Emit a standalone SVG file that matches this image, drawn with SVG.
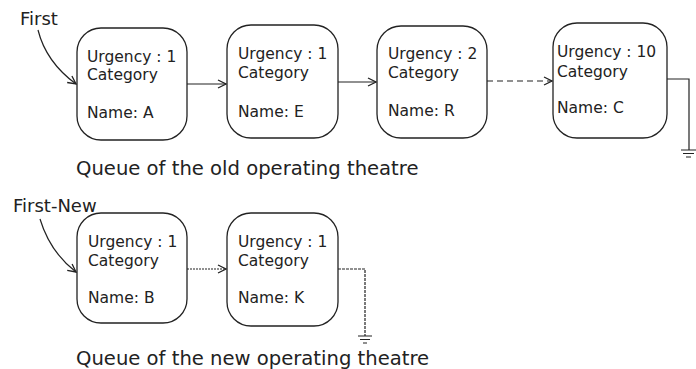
<svg xmlns="http://www.w3.org/2000/svg" width="696" height="369" viewBox="0 0 696 369">
<style>
.node{fill:#fff;stroke:#222;stroke-width:1.3}
.t{font-family:"DejaVu Sans",Verdana,sans-serif;font-size:15.5px;fill:#222}
.lbl{font-family:"DejaVu Sans",Verdana,sans-serif;font-size:18px;fill:#222}
.cap{font-family:"DejaVu Sans",Verdana,sans-serif;font-size:19.6px;fill:#222}
.ln{fill:none;stroke:#222;stroke-width:1.2}
</style>
<defs>
<marker id="ah" markerWidth="10" markerHeight="10" refX="9" refY="5" orient="auto" markerUnits="userSpaceOnUse">
<path d="M1,1 L9,5 L1,9" fill="none" stroke="#222" stroke-width="1.3"/>
</marker>
</defs>
<rect width="696" height="369" fill="#fff"/>
<text class="lbl" x="20" y="25">First</text>
<text class="lbl" x="13" y="212">First-New</text>
<g id="nodeA"><rect class="node" x="77" y="28" width="110" height="112" rx="24"/>
<text class="t" x="87" y="62">Urgency : 1</text><text class="t" x="87" y="80">Category</text><text class="t" x="87" y="118">Name: A</text></g>
<g id="nodeE"><rect class="node" x="227" y="25" width="111" height="113" rx="24"/>
<text class="t" x="238" y="59">Urgency : 1</text><text class="t" x="238" y="78">Category</text><text class="t" x="238" y="117">Name: E</text></g>
<g id="nodeR"><rect class="node" x="377" y="26" width="110" height="112" rx="24"/>
<text class="t" x="388" y="59">Urgency : 2</text><text class="t" x="388" y="78">Category</text><text class="t" x="388" y="116">Name: R</text></g>
<g id="nodeC"><rect class="node" x="553" y="23" width="114" height="115" rx="24"/>
<text class="t" x="557" y="57">Urgency : 10</text><text class="t" x="557" y="77">Category</text><text class="t" x="557" y="113">Name: C</text></g>
<g id="nodeB"><rect class="node" x="77" y="213" width="110" height="110" rx="24"/>
<text class="t" x="88" y="247">Urgency : 1</text><text class="t" x="88" y="266">Category</text><text class="t" x="88" y="303">Name: B</text></g>
<g id="nodeK"><rect class="node" x="227" y="213" width="111" height="113" rx="24"/>
<text class="t" x="238" y="247">Urgency : 1</text><text class="t" x="238" y="266">Category</text><text class="t" x="238" y="303">Name: K</text></g>
<g id="connectors">
<path class="ln" d="M38,30 Q46,62 76,84" marker-end="url(#ah)"/>
<path class="ln" d="M40,219 Q50,252 76,272" marker-end="url(#ah)"/>
<line class="ln" x1="187" y1="84" x2="226" y2="84" marker-end="url(#ah)"/>
<line class="ln" x1="338" y1="82" x2="376" y2="82" marker-end="url(#ah)"/>
<line class="ln" x1="487" y1="81" x2="552" y2="81" stroke-dasharray="6,4" marker-end="url(#ah)"/>
<line class="ln" x1="187" y1="269" x2="226" y2="269" stroke-dasharray="2,1" marker-end="url(#ah)"/>
<path class="ln" d="M667,79 H689 V150"/>
<path class="ln" d="M681,150 H696 M683,153.5 H694 M686,157 H691"/>
<path class="ln" d="M338,269 H365 V336" stroke-dasharray="3,1"/>
<path class="ln" d="M358,336 H372 M360,339.5 H370 M363,343 H367"/>
</g>
<text class="cap" x="76" y="175">Queue of the old operating theatre</text>
<text class="cap" x="76" y="365">Queue of the new operating theatre</text>
</svg>
